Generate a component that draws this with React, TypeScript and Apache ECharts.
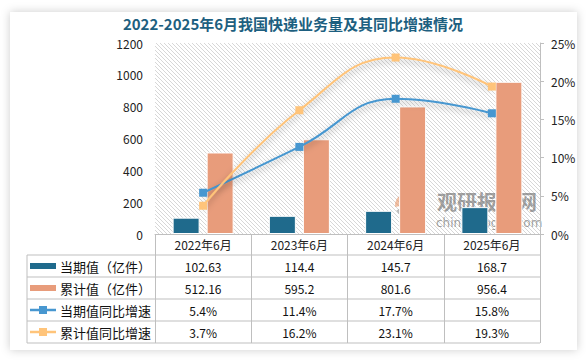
import React, { useEffect, useRef } from "react";
import * as echarts from "echarts";

const categories = ["2022年6月", "2023年6月", "2024年6月", "2025年6月"];
const currentValues = [102.63, 114.4, 145.7, 168.7];
const cumulativeValues = [512.16, 595.2, 801.6, 956.4];
const currentGrowth = [5.4, 11.4, 17.7, 15.8];
const cumulativeGrowth = [3.7, 16.2, 23.1, 19.3];
const seriesNames = ["当期值（亿件）", "累计值（亿件）", "当期值同比增速", "累计值同比增速"];
const leftTicks = { min: 0, max: 1200, interval: 200 };
const rightTicks = { min: 0, max: 25, interval: 5 };

const FONT = "Noto Sans CJK SC";
const C_DARK = "#1f6a8c";
const C_SALMON = "#e89c7b";
const C_BLUE = "#4797d0";
const C_ORANGE = "#ffc47a";
const GRID_LINE = "#bfbfbf";

const W = 586;
const H = 362;
const GL = 155;
const GR = 46;
const GT = 43;
const GB = 128;
const TABLE_LEFT = 27;
const ROW_TOP = 255;
const ROW_H = 22;
const HATCH_STEP = 4;

export default function App() {
  const ref = useRef<HTMLDivElement>(null);
  useEffect(() => {
    if (!ref.current) return;
    const chart = echarts.init(ref.current, null, { renderer: "svg" });
    const plotRight = W - GR;
    const plotBottom = H - GB;
    const colW = (plotRight - GL) / categories.length;
    const rowsData: { name: string; vals: string[] }[] = [
      { name: seriesNames[0], vals: currentValues.map((v) => String(v)) },
      { name: seriesNames[1], vals: cumulativeValues.map((v) => String(v)) },
      { name: seriesNames[2], vals: currentGrowth.map((v) => v.toFixed(1) + "%") },
      { name: seriesNames[3], vals: cumulativeGrowth.map((v) => v.toFixed(1) + "%") },
    ];
    const graphics: any[] = [];
    graphics.push({
      type: "rect",
      z: -10,
      shape: { x: 10, y: 12, width: 567, height: 338 },
      style: { fill: "#fff", shadowBlur: 10, shadowColor: "rgba(0,0,0,0.2)" },
      silent: true,
    });
    // hatch background of the plot area
    const hatch: any[] = [];
    for (let c = GL - plotBottom; c <= plotRight - GT; c += HATCH_STEP) {
      const sx = Math.max(GL, c + GT);
      const ex = Math.min(plotRight, c + plotBottom);
      if (ex - sx < 0.5) continue;
      hatch.push({
        type: "line",
        shape: { x1: sx, y1: sx - c, x2: ex, y2: ex - c },
        style: { stroke: "#d3d3d3", lineWidth: 0.9 },
      });
    }
    graphics.push({ type: "group", z: 0, silent: true, children: hatch });
    // table horizontal lines
    for (let k = 0; k <= rowsData.length; k++) {
      const y = ROW_TOP + k * ROW_H;
      graphics.push({
        type: "line",
        shape: { x1: TABLE_LEFT, y1: y, x2: plotRight, y2: y },
        style: { stroke: GRID_LINE, lineWidth: 1 },
        silent: true,
      });
    }
    graphics.push({
      type: "line",
      shape: { x1: TABLE_LEFT, y1: ROW_TOP, x2: TABLE_LEFT, y2: ROW_TOP + rowsData.length * ROW_H },
      style: { stroke: GRID_LINE, lineWidth: 1 },
      silent: true,
    });
    const iconColors = [C_DARK, C_SALMON, C_BLUE, C_ORANGE];
    rowsData.forEach((row, k) => {
      const cy = ROW_TOP + k * ROW_H + ROW_H / 2;
      if (k < 2) {
        graphics.push({
          type: "rect",
          shape: { x: 30, y: cy - 3, width: 26, height: 6 },
          style: { fill: iconColors[k] },
          silent: true,
        });
      } else {
        graphics.push({
          type: "line",
          shape: { x1: 30, y1: cy, x2: 56, y2: cy },
          style: { stroke: iconColors[k], lineWidth: 2.5 },
          silent: true,
        });
        graphics.push({
          type: "rect",
          shape: { x: 39, y: cy - 4, width: 8, height: 8 },
          style: { fill: iconColors[k] },
          silent: true,
        });
      }
      graphics.push({
        type: "text",
        x: 60,
        y: cy,
        style: {
          text: row.name,
          font: `13px "${FONT}"`,
          fill: "#111",
          verticalAlign: "middle",
        },
        silent: true,
      });
      row.vals.forEach((v, i) => {
        graphics.push({
          type: "text",
          x: GL + colW * (i + 0.5),
          y: cy,
          style: {
            text: v,
            font: `12px "${FONT}"`,
            fill: "#111",
            align: "center",
            verticalAlign: "middle",
          },
          silent: true,
        });
      });
    });
    // watermark
    graphics.push({
      type: "group",
      z: 100,
      silent: true,
      children: [
        {
          type: "arc",
          shape: { cx: 407, cy: 205, r: 10, startAngle: Math.PI * 0.95, endAngle: Math.PI * 1.85 },
          style: { stroke: "rgba(230,140,90,0.55)", lineWidth: 4, fill: "none" },
        },
        {
          type: "arc",
          shape: { cx: 407, cy: 205, r: 10, startAngle: Math.PI * -0.05, endAngle: Math.PI * 0.85 },
          style: { stroke: "rgba(120,120,120,0.5)", lineWidth: 4, fill: "none" },
        },
        {
          type: "arc",
          shape: { cx: 407, cy: 205, r: 4.5, startAngle: Math.PI * 0.3, endAngle: Math.PI * 1.4 },
          style: { stroke: "rgba(120,120,120,0.5)", lineWidth: 3, fill: "none" },
        },
        {
          type: "text",
          x: 437,
          y: 201,
          style: {
            text: "观研报告网",
            font: `bold 20px "${FONT}"`,
            fill: "rgba(100,100,100,0.6)",
            verticalAlign: "middle",
          },
        },
        {
          type: "text",
          x: 436,
          y: 223,
          style: {
            text: "chinabaogao.com",
            font: `12px "DejaVu Sans"`,
            fill: "rgba(100,100,100,0.6)",
            verticalAlign: "middle",
          },
        },
      ],
    });

    const lineShadow = {
      shadowColor: "rgba(0,0,0,0.3)",
      shadowBlur: 6,
      shadowOffsetY: 3,
    };

    chart.setOption({
      animation: false,
      backgroundColor: "#fff",
      textStyle: { fontFamily: FONT },
      title: {
        text: "2022-2025年6月我国快递业务量及其同比增速情况",
        left: "center",
        top: 16,
        padding: 0,
        textStyle: { fontSize: 15, lineHeight: 15, fontWeight: "bold", color: "#1d5f80", fontFamily: FONT },
      },
      grid: {
        left: GL,
        right: GR,
        top: GT,
        bottom: GB,
        show: false,
      },
      xAxis: {
        type: "category",
        data: categories,
        boundaryGap: true,
        axisLine: { show: true, lineStyle: { color: GRID_LINE, width: 1 } },
        axisTick: {
          show: true,
          length: ROW_TOP + 4 * ROW_H - plotBottom,
          lineStyle: { color: GRID_LINE },
        },
        axisLabel: { color: "#222", fontSize: 12, margin: 4, fontFamily: FONT },
        splitLine: { show: false },
      },
      yAxis: [
        {
          type: "value",
          min: leftTicks.min,
          max: leftTicks.max,
          interval: leftTicks.interval,
          axisLine: { show: false },
          axisTick: { show: false },
          splitLine: { show: false },
          axisLabel: {
            color: "#222",
            fontSize: 12,
            lineHeight: 13,
            margin: 12,
            fontFamily: FONT,
            formatter: (v: number) => String(v),
          },
        },
        {
          type: "value",
          min: rightTicks.min,
          max: rightTicks.max,
          interval: rightTicks.interval,
          position: "right",
          axisLine: { show: true, lineStyle: { color: GRID_LINE } },
          axisTick: { show: true, length: 4, lineStyle: { color: GRID_LINE } },
          splitLine: { show: false },
          axisLabel: { color: "#222", fontSize: 12, margin: 11, formatter: "{value}%", fontFamily: FONT },
        },
      ],
      graphic: graphics,
      series: [
        {
          name: seriesNames[0],
          type: "bar",
          data: currentValues,
          barWidth: 27,
          barGap: "26%",
          itemStyle: { color: C_DARK, borderColor: "#fff", borderWidth: 1 },
          z: 3,
        },
        {
          name: seriesNames[1],
          type: "bar",
          data: cumulativeValues,
          barWidth: 27,
          barGap: "26%",
          itemStyle: { color: C_SALMON, borderColor: "#fff", borderWidth: 1 },
          z: 3,
        },
        {
          name: seriesNames[2],
          type: "line",
          yAxisIndex: 1,
          data: currentGrowth,
          smooth: 0.45,
          symbol: "rect",
          symbolSize: 8,
          lineStyle: { color: C_BLUE, width: 2, ...lineShadow },
          itemStyle: { color: C_BLUE },
          z: 5,
        },
        {
          name: seriesNames[3],
          type: "line",
          yAxisIndex: 1,
          data: cumulativeGrowth,
          smooth: 0.45,
          symbol: "rect",
          symbolSize: 8,
          lineStyle: { color: C_ORANGE, width: 2, ...lineShadow },
          itemStyle: { color: C_ORANGE },
          z: 5,
        },
      ],
    });
    return () => chart.dispose();
  }, []);
  return (
    <div
      ref={ref}
      style={{ position: "absolute", left: 0, top: 0, width: W, height: H, background: "#fff" }}
    />
  );
}
